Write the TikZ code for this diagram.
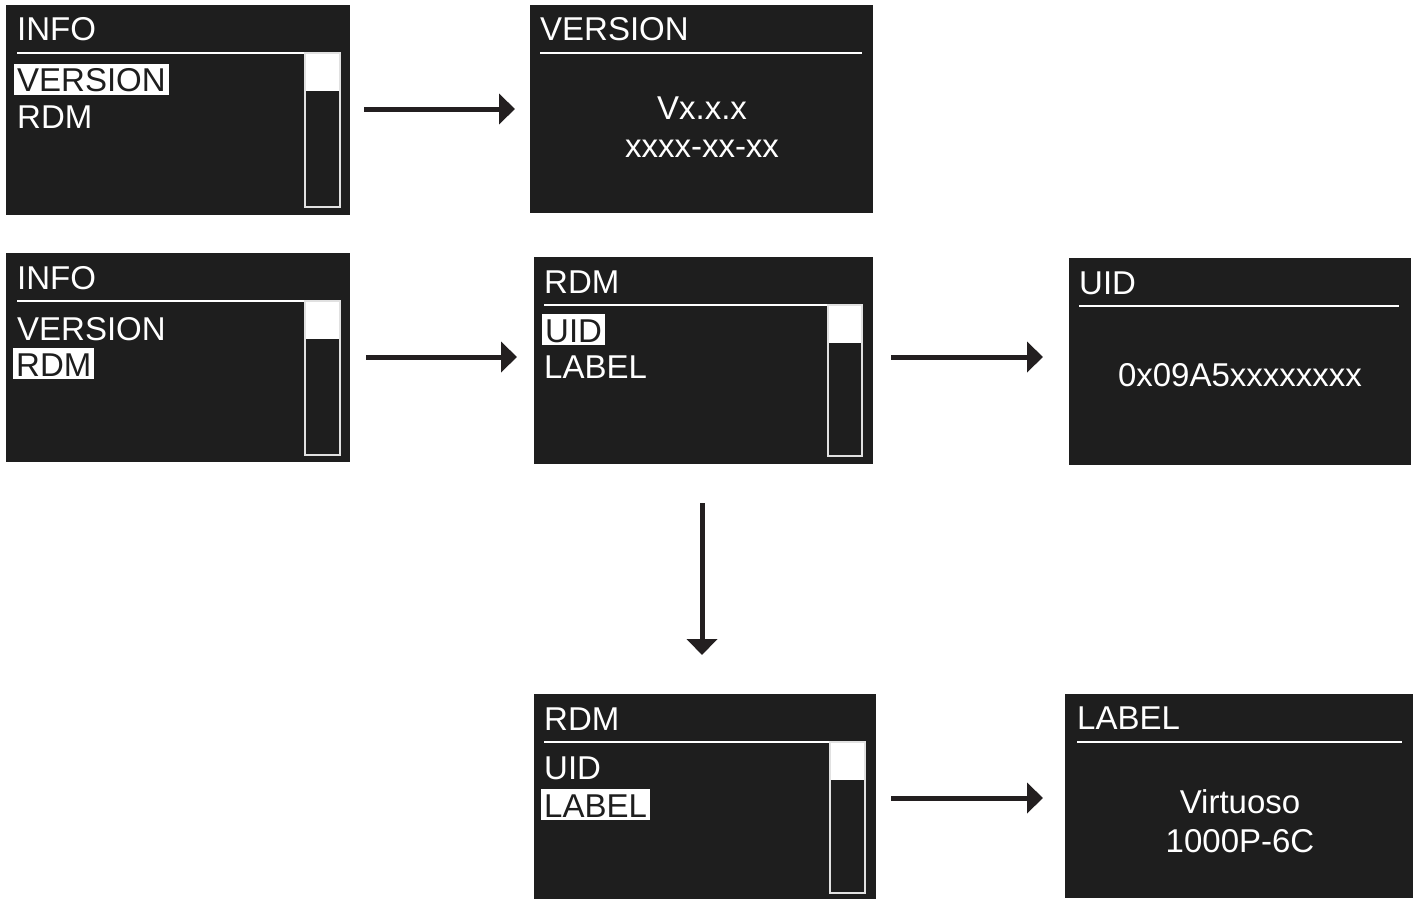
\documentclass[tikz,border=0pt]{standalone}
\usepackage{fontspec}
\setmainfont{Liberation Sans}
\usetikzlibrary{arrows.meta}
\definecolor{scr}{RGB}{30,30,30}
\definecolor{arrc}{RGB}{35,31,32}
\definecolor{sbc}{RGB}{225,225,225}
\begin{document}
\begin{tikzpicture}[x=1pt,y=-1pt,
  screen/.style={fill=scr,draw=none,inner sep=0pt,outer sep=0pt,anchor=north west},
  ttl/.style={text=white,font=\fontsize{33}{36}\selectfont,inner sep=0pt,anchor=base west},
  itm/.style={text=white,font=\fontsize{33}{36}\selectfont,inner sep=0pt,anchor=base west},
  hl/.style={fill=white,text=scr,font=\fontsize{33}{36}\selectfont,inner xsep=3pt,inner ysep=0pt,text height=28pt,text depth=3pt,anchor=base west},
  ctr/.style={text=white,font=\fontsize{33}{36}\selectfont,inner sep=0pt,anchor=base},
  rule/.style={draw=white,line width=2pt},
  sbar/.style={draw=sbc,line width=1.8pt},
  arr/.style={draw=arrc,line width=5pt,-{Triangle[length=16pt,width=30pt]}}
]
\useasboundingbox (0,0) rectangle (1416,899);

% Screen 1: INFO (VERSION selected)
\node[screen,minimum width=344pt,minimum height=210pt] (s1) at (6,5) {};
\node[ttl] (s1t) at (17,41) {INFO};
\draw[rule] (17,53) -- (305,53);
\fill[white] (305,53) rectangle (340,91);
\draw[sbar] (305,53) rectangle (340,207);
\node[hl,xshift=-3pt] (s1a) at (17,92) {VERSION};
\node[itm] (s1b) at (17,128) {RDM};

% Screen 2: VERSION
\node[screen,minimum width=343pt,minimum height=208pt] (s2) at (530,5) {};
\node[ttl] (s2t) at (540,41) {VERSION};
\draw[rule] (540,53) -- (862,53);
\node[ctr] (s2a) at (702,119) {Vx.x.x};
\node[ctr] (s2b) at (702,157) {xxxx-xx-xx};

% Screen 3: INFO (RDM selected)
\node[screen,minimum width=344pt,minimum height=209pt] (s3) at (6,253) {};
\node[ttl] (s3t) at (17,289) {INFO};
\draw[rule] (17,301) -- (305,301);
\fill[white] (305,301) rectangle (340,339);
\draw[sbar] (305,301) rectangle (340,455);
\node[itm] (s3a) at (17,340) {VERSION};
\node[hl,xshift=-3pt] (s3b) at (16,376) {RDM};

% Screen 4: RDM (UID selected)
\node[screen,minimum width=339pt,minimum height=207pt] (s4) at (534,257) {};
\node[ttl] (s4t) at (544,293) {RDM};
\draw[rule] (544,305) -- (828,305);
\fill[white] (828,305) rectangle (862,343);
\draw[sbar] (828,305) rectangle (862,456);
\node[hl,xshift=-3pt] (s4a) at (545,342) {UID};
\node[itm] (s4b) at (544,378) {LABEL};

% Screen 5: UID
\node[screen,minimum width=342pt,minimum height=207pt] (s5) at (1069,258) {};
\node[ttl] (s5t) at (1079,294) {UID};
\draw[rule] (1079,306) -- (1399,306);
\node[ctr] (s5a) at (1240,386) {0x09A5xxxxxxxx};

% Screen 6: RDM (LABEL selected)
\node[screen,minimum width=342pt,minimum height=205pt] (s6) at (534,694) {};
\node[ttl] (s6t) at (544,730) {RDM};
\draw[rule] (544,742) -- (830,742);
\fill[white] (830,742) rectangle (865,780);
\draw[sbar] (830,742) rectangle (865,893);
\node[itm] (s6a) at (544,779) {UID};
\node[hl,xshift=-3pt] (s6b) at (544,817) {LABEL};

% Screen 7: LABEL
\node[screen,minimum width=348pt,minimum height=204pt] (s7) at (1065,694) {};
\node[ttl] (s7t) at (1077,729) {LABEL};
\draw[rule] (1077,742) -- (1402,742);
\node[ctr] (s7a) at (1240,813) {Virtuoso};
\node[ctr] (s7b) at (1240,852) {1000P-6C};

% Arrows
\coordinate (a1s) at (364,109); \coordinate (a1e) at (515,109);
\coordinate (a2s) at (366,357); \coordinate (a2e) at (517,357);
\coordinate (a3s) at (891,357); \coordinate (a3e) at (1043,357);
\coordinate (a4s) at (702,503); \coordinate (a4e) at (702,655);
\coordinate (a5s) at (891,798); \coordinate (a5e) at (1043,798);
\draw[arr] (a1s) -- (a1e);
\draw[arr] (a2s) -- (a2e);
\draw[arr] (a3s) -- (a3e);
\draw[arr] (a4s) -- (a4e);
\draw[arr] (a5s) -- (a5e);
\end{tikzpicture}
\end{document}
